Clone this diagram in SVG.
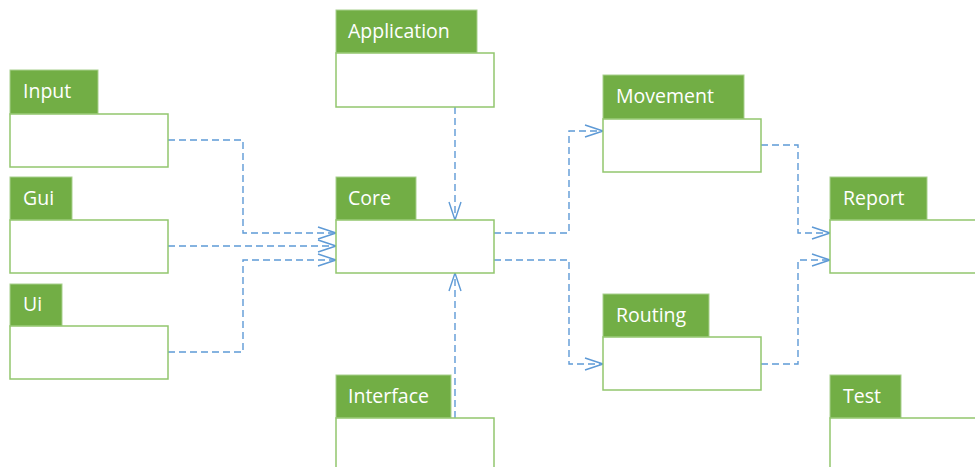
<svg xmlns="http://www.w3.org/2000/svg" width="975" height="467" viewBox="0 0 975 467">
<style>
.tab{fill:#72AE45;stroke:#A8D08D;stroke-width:1}
.box{fill:#fff;stroke:#92C66E;stroke-width:1.5}
.lbl{font-family:"Open Sans","Noto Sans",sans-serif;font-size:19.5px;fill:#fff}
.con{fill:none;stroke:#5E9AD6;stroke-width:1.4;stroke-dasharray:7 4}
</style>
<defs>
<marker id="arr" viewBox="0 0 20 14" refX="19" refY="7" markerWidth="20" markerHeight="14" markerUnits="userSpaceOnUse" orient="auto">
<path d="M1 1 L19 7 L1 13" fill="none" stroke="#5E9AD6" stroke-width="1.4"/>
</marker>
</defs>
<rect width="975" height="467" fill="#fff"/>
<g id="connectors">
<path class="con" d="M168 140 H243 V233 H336" marker-end="url(#arr)"/>
<path class="con" d="M168 246 H336" marker-end="url(#arr)"/>
<path class="con" d="M168 352 H243 V260 H336" marker-end="url(#arr)"/>
<path class="con" d="M455 107 V220" marker-end="url(#arr)"/>
<path class="con" d="M455 418 V273" marker-end="url(#arr)"/>
<path class="con" d="M494 233 H569 V131 H603" marker-end="url(#arr)"/>
<path class="con" d="M494 260 H569 V364 H603" marker-end="url(#arr)"/>
<path class="con" d="M761 145 H798 V233 H830" marker-end="url(#arr)"/>
<path class="con" d="M761 364 H798 V260 H830" marker-end="url(#arr)"/>
</g>
<g id="Input">
<rect class="tab" x="10" y="70" width="88" height="44"/>
<rect class="box" x="10" y="114" width="158" height="53"/>
<text class="lbl" x="23" y="98">Input</text>
</g>
<g id="Gui">
<rect class="tab" x="10" y="177" width="62" height="43"/>
<rect class="box" x="10" y="220" width="158" height="53"/>
<text class="lbl" x="23" y="205">Gui</text>
</g>
<g id="Ui">
<rect class="tab" x="10" y="284" width="52" height="42"/>
<rect class="box" x="10" y="326" width="158" height="53"/>
<text class="lbl" x="23" y="311">Ui</text>
</g>
<g id="Application">
<rect class="tab" x="336" y="10" width="141" height="43"/>
<rect class="box" x="336" y="53" width="158" height="54"/>
<text class="lbl" x="348" y="38">Application</text>
</g>
<g id="Core">
<rect class="tab" x="336" y="177" width="80" height="43"/>
<rect class="box" x="336" y="220" width="158" height="53"/>
<text class="lbl" x="348" y="205">Core</text>
</g>
<g id="Interface">
<rect class="tab" x="336" y="375" width="115" height="43"/>
<rect class="box" x="336" y="418" width="158" height="60"/>
<text class="lbl" x="348" y="403">Interface</text>
</g>
<g id="Movement">
<rect class="tab" x="603" y="75" width="141" height="44"/>
<rect class="box" x="603" y="119" width="158" height="53"/>
<text class="lbl" x="616" y="103">Movement</text>
</g>
<g id="Routing">
<rect class="tab" x="603" y="294" width="106" height="43"/>
<rect class="box" x="603" y="337" width="158" height="53"/>
<text class="lbl" x="616" y="322">Routing</text>
</g>
<g id="Report">
<rect class="tab" x="830" y="177" width="97" height="43"/>
<rect class="box" x="830" y="220" width="160" height="53"/>
<text class="lbl" x="843" y="205">Report</text>
</g>
<g id="Test">
<rect class="tab" x="830" y="375" width="71" height="43"/>
<rect class="box" x="830" y="418" width="160" height="60"/>
<text class="lbl" x="843" y="403">Test</text>
</g>
</svg>
